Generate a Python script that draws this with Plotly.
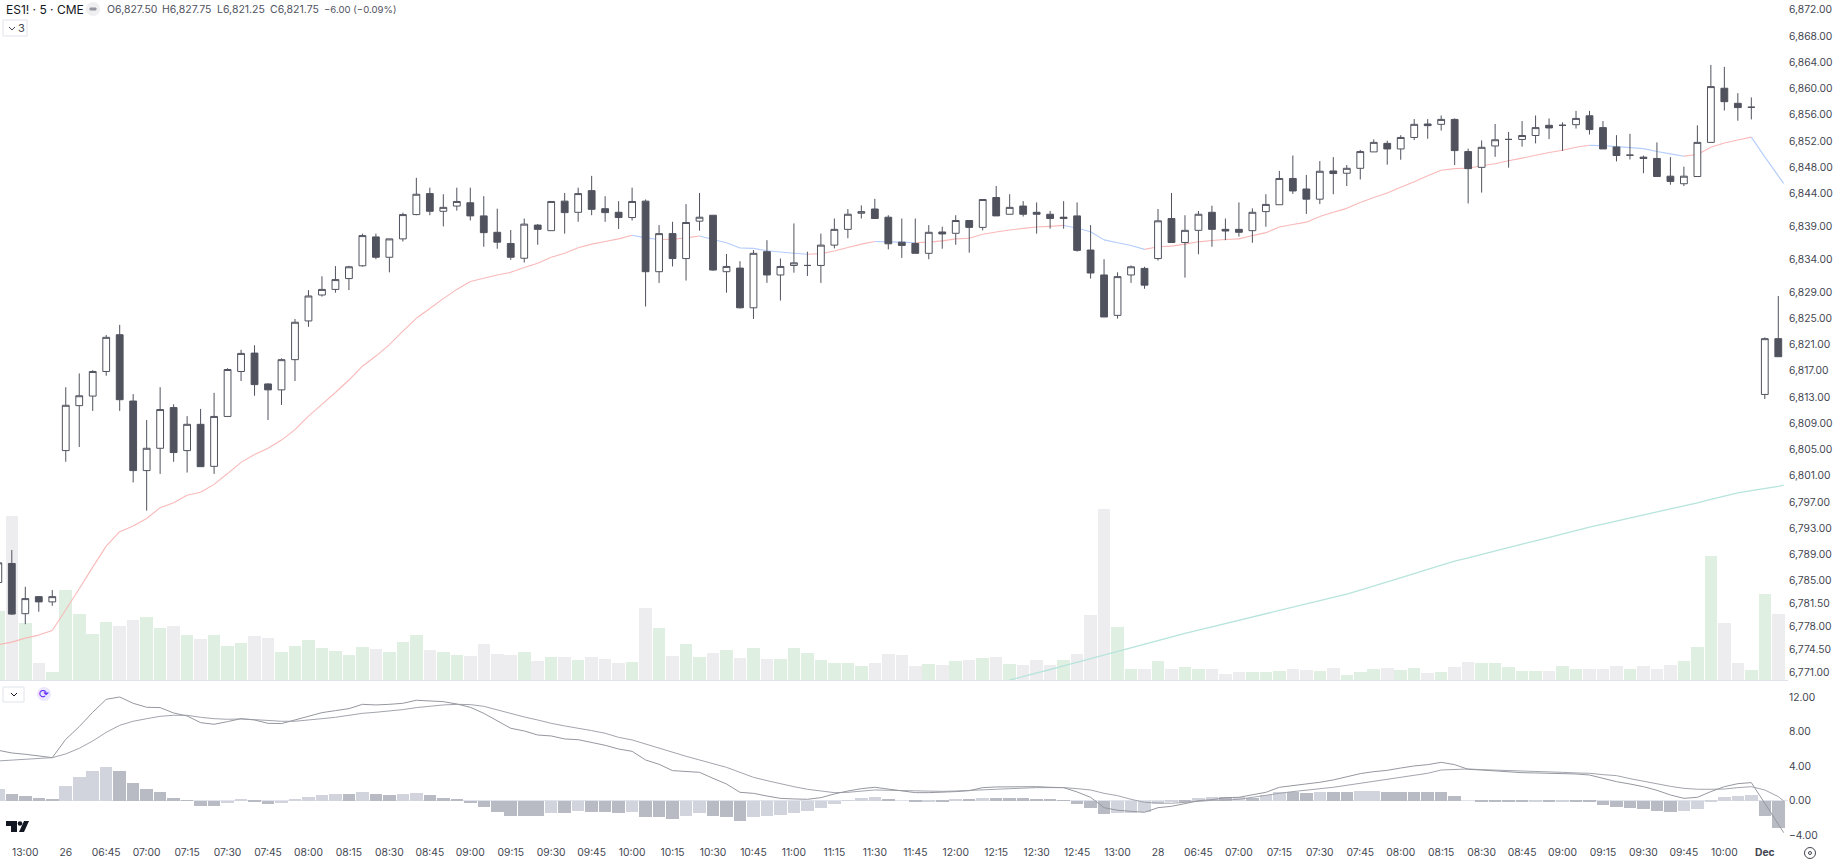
import plotly.graph_objects as go

# ES1! 5 minute bars, x is the bar number, 0 is the first "13:00" label
bar_index = list(range(-2, 131))

opens = [
    6784.75, 6787.65, 6780.0, 6782.6, 6781.8, 6804.85, 6811.7, 6813.15, 6816.9, 6822.5,
    6812.4, 6801.8, 6805.2, 6811.4, 6804.85, 6808.85, 6802.45, 6810.05, 6816.9, 6819.7,
    6815.0, 6814.1, 6818.7, 6824.6, 6828.55, 6829.4, 6831.05, 6833.0, 6837.4, 6834.3,
    6837.1, 6840.8, 6844.0, 6841.3, 6842.1, 6842.6, 6840.6, 6838.1, 6836.4, 6834.15,
    6839.2, 6838.35, 6842.85, 6841.15, 6844.45, 6841.7, 6841.15, 6840.35, 6842.85, 6832.1,
    6837.9, 6834.1, 6839.8, 6840.7, 6832.1, 6832.65, 6826.6, 6835.15, 6831.6, 6833.05,
    6833.05, 6833.05, 6836.15, 6838.55, 6841.0, 6841.65, 6840.4, 6836.6, 6836.4, 6834.9,
    6838.15, 6837.95, 6839.9, 6838.85, 6843.4, 6840.85, 6842.1, 6841.15, 6840.85, 6840.2,
    6840.6, 6835.4, 6831.6, 6825.45, 6831.6, 6832.6, 6834.1, 6840.2, 6836.55, 6838.4,
    6841.15, 6838.55, 6838.55, 6838.35, 6841.25, 6842.3, 6846.3, 6844.7, 6843.15, 6847.45,
    6847.1, 6847.85, 6850.35, 6851.65, 6850.8, 6852.55, 6854.6, 6854.55, 6855.3, 6850.4,
    6848.0, 6851.25, 6852.25, 6852.25, 6852.85, 6854.4, 6854.4, 6854.5, 6855.85, 6854.05,
    6851.1, 6849.85, 6849.55, 6849.35, 6846.65, 6845.5, 6846.6, 6851.8, 6860.05, 6857.75,
    6857.15, 6813.4, 6821.9,
]
highs = [
    6788.0, 6789.7, 6784.1, 6782.7, 6783.6, 6814.5, 6816.6, 6817.1, 6822.45, 6824.0,
    6813.45, 6809.5, 6814.5, 6811.9, 6810.1, 6811.2, 6813.65, 6817.4, 6820.2, 6820.9,
    6815.1, 6818.9, 6824.9, 6829.3, 6831.4, 6832.95, 6833.0, 6837.9, 6837.9, 6837.1,
    6841.1, 6846.4, 6844.9, 6843.9, 6844.9, 6844.9, 6843.6, 6841.7, 6838.45, 6840.2,
    6839.35, 6842.8, 6844.1, 6844.9, 6846.7, 6843.6, 6842.85, 6844.9, 6843.1, 6839.2,
    6839.7, 6842.4, 6844.1, 6840.7, 6834.8, 6833.7, 6835.4, 6836.9, 6834.1, 6839.45,
    6835.15, 6837.9, 6840.2, 6841.65, 6842.2, 6843.2, 6840.7, 6840.2, 6840.2, 6839.2,
    6838.95, 6840.7, 6839.9, 6843.1, 6845.15, 6843.9, 6842.85, 6842.65, 6841.35, 6842.85,
    6842.65, 6839.2, 6834.0, 6832.0, 6833.05, 6832.85, 6841.65, 6844.1, 6840.7, 6841.35,
    6842.15, 6840.2, 6842.65, 6841.75, 6843.9, 6847.45, 6849.8, 6846.85, 6848.95, 6849.55,
    6848.35, 6850.65, 6852.25, 6852.05, 6852.9, 6855.35, 6855.35, 6855.9, 6855.45, 6850.85,
    6852.1, 6854.6, 6853.4, 6855.05, 6855.9, 6855.45, 6854.85, 6856.6, 6856.6, 6855.05,
    6852.9, 6853.1, 6849.8, 6851.8, 6849.55, 6848.1, 6854.4, 6863.6, 6863.3, 6859.3,
    6858.65, 6822.1, 6828.4,
]
lows = [
    6784.5, 6779.8, 6778.4, 6780.3, 6781.2, 6803.15, 6805.4, 6810.9, 6816.25, 6810.9,
    6800.0, 6795.7, 6801.3, 6803.15, 6801.5, 6802.4, 6801.3, 6810.05, 6815.45, 6813.2,
    6809.5, 6811.8, 6815.45, 6823.7, 6828.3, 6828.9, 6829.3, 6832.85, 6834.0, 6832.0,
    6836.7, 6840.7, 6840.7, 6839.0, 6841.4, 6839.9, 6835.9, 6835.6, 6833.9, 6833.5,
    6836.2, 6838.35, 6837.9, 6839.7, 6840.7, 6839.7, 6838.6, 6839.9, 6826.8, 6830.4,
    6832.9, 6830.75, 6838.35, 6832.25, 6828.9, 6826.5, 6824.9, 6830.4, 6827.7, 6831.95,
    6831.45, 6830.4, 6835.65, 6837.2, 6840.2, 6840.2, 6835.5, 6834.2, 6834.9, 6834.0,
    6835.6, 6836.2, 6835.0, 6838.4, 6840.6, 6840.85, 6840.5, 6837.9, 6838.65, 6838.65,
    6835.15, 6831.05, 6825.2, 6824.95, 6830.4, 6829.5, 6833.8, 6836.55, 6831.2, 6834.75,
    6835.9, 6836.9, 6837.45, 6836.5, 6838.95, 6842.3, 6843.95, 6840.9, 6842.4, 6843.9,
    6845.15, 6846.15, 6850.35, 6848.4, 6849.15, 6852.15, 6852.35, 6853.6, 6848.35, 6842.5,
    6844.15, 6849.6, 6847.95, 6851.15, 6851.65, 6852.3, 6850.5, 6853.9, 6853.0, 6850.8,
    6848.9, 6849.2, 6847.1, 6846.6, 6845.35, 6845.15, 6846.6, 6851.8, 6856.65, 6855.1,
    6855.3, 6812.7, 6819.15,
]
closes = [
    6787.75, 6779.94, 6782.3, 6781.8, 6782.6, 6811.75, 6813.2, 6816.9, 6822.1, 6812.6,
    6801.8, 6805.2, 6811.1, 6804.55, 6808.85, 6802.4, 6810.05, 6817.2, 6819.65, 6814.9,
    6814.1, 6818.7, 6824.4, 6828.4, 6829.4, 6830.9, 6832.85, 6837.6, 6834.3, 6837.1,
    6840.8, 6843.9, 6841.3, 6841.9, 6842.8, 6840.6, 6838.05, 6836.6, 6834.3, 6839.35,
    6838.55, 6842.8, 6841.1, 6844.0, 6841.6, 6841.1, 6840.35, 6842.8, 6832.1, 6837.9,
    6834.1, 6839.6, 6840.4, 6832.35, 6832.9, 6826.6, 6834.9, 6831.6, 6832.9, 6833.45,
    6833.05, 6836.15, 6838.55, 6840.85, 6841.25, 6840.2, 6836.35, 6836.1, 6834.9, 6838.1,
    6837.85, 6839.9, 6838.85, 6843.1, 6840.6, 6841.9, 6840.85, 6840.85, 6840.2, 6840.4,
    6835.35, 6831.9, 6825.2, 6831.35, 6832.85, 6830.05, 6839.85, 6836.55, 6838.4, 6840.85,
    6838.55, 6838.3, 6838.1, 6841.15, 6842.35, 6846.3, 6844.4, 6843.15, 6847.4, 6847.05,
    6847.85, 6850.4, 6851.8, 6850.8, 6852.55, 6854.55, 6854.35, 6855.3, 6850.55, 6847.8,
    6851.05, 6852.2, 6852.25, 6852.85, 6854.05, 6854.0, 6854.4, 6855.45, 6853.75, 6850.8,
    6849.8, 6849.85, 6849.35, 6846.6, 6845.85, 6846.65, 6851.8, 6860.3, 6858.0, 6857.1,
    6857.15, 6821.9, 6819.15,
]
volumes = [
    208, 491, 172, 50, 25, 269, 199, 139, 175, 161,
    181, 188, 157, 161, 134, 123, 136, 103, 112, 133,
    125, 85, 103, 121, 97, 87, 76, 100, 94, 85,
    114, 136, 91, 85, 76, 73, 107, 78, 76, 85,
    58, 70, 70, 61, 69, 62, 51, 55, 215, 157,
    73, 107, 69, 82, 91, 67, 96, 64, 64, 96,
    80, 61, 51, 51, 42, 51, 79, 76, 43, 49,
    46, 58, 60, 67, 70, 49, 46, 60, 46, 61,
    78, 195, 513, 159, 34, 34, 58, 34, 40, 32,
    33, 19, 25, 24, 25, 28, 34, 31, 28, 37,
    16, 25, 33, 37, 31, 37, 22, 24, 40, 55,
    51, 51, 40, 28, 28, 28, 42, 34, 34, 34,
    42, 34, 42, 34, 46, 58, 98, 373, 172, 51,
    31, 258, 197,
]

# moving averages and MACD run a bit past the last bar, to the forming candle
line_index = bar_index + [130.4]
ema_fast = [
    6775.27, 6775.67, 6776.28, 6776.74, 6777.45, 6780.6, 6783.8, 6787.1, 6790.3, 6792.5,
    6793.35, 6794.5, 6796.15, 6796.9, 6798.05, 6798.5, 6799.7, 6801.35, 6803.05, 6804.25,
    6805.2, 6806.45, 6808.05, 6810.1, 6811.9, 6813.7, 6815.6, 6817.7, 6819.25, 6821.0,
    6823.05, 6825.0, 6826.5, 6828.0, 6829.4, 6830.6, 6831.1, 6831.6, 6832.0, 6832.75,
    6833.4, 6834.3, 6834.9, 6835.75, 6836.3, 6836.7, 6837.1, 6837.65, 6837.25, 6837.0,
    6837.05, 6837.25, 6837.55, 6837.0, 6836.5, 6835.7, 6835.65, 6835.3, 6835.1, 6834.9,
    6834.75, 6834.85, 6835.25, 6835.8, 6836.3, 6836.7, 6836.65, 6836.6, 6836.5, 6836.6,
    6836.8, 6837.1, 6837.2, 6837.8, 6838.15, 6838.45, 6838.7, 6838.9, 6839.0, 6839.15,
    6838.75, 6838.2, 6836.95, 6836.5, 6836.1, 6835.5, 6835.9, 6836.0, 6836.3, 6836.65,
    6836.85, 6837.0, 6837.1, 6837.6, 6838.05, 6838.9, 6839.3, 6839.65, 6840.5, 6841.15,
    6841.75, 6842.65, 6843.4, 6844.1, 6844.95, 6845.8, 6846.7, 6847.55, 6847.8, 6847.85,
    6848.25, 6848.55, 6849.0, 6849.4, 6849.85, 6850.25, 6850.6, 6851.05, 6851.35, 6851.3,
    6851.15, 6851.0, 6850.85, 6850.4, 6850.05, 6849.7, 6849.95, 6851.05, 6851.7, 6852.15,
    6852.6, 6849.6, 6846.7, 6845.55,
]
sma_index = list(range(73, 131)) + [130.4]
sma_slow = [
    6769.9, 6770.4, 6770.95, 6771.5, 6772.05, 6772.6, 6773.15, 6773.7, 6774.3, 6774.9,
    6775.45, 6776.0, 6776.5, 6777.0, 6777.5, 6778.0, 6778.5, 6779.0, 6779.5, 6780.0,
    6780.45, 6780.95, 6781.4, 6781.9, 6782.4, 6783.0, 6783.6, 6784.2, 6784.85, 6785.45,
    6786.1, 6786.75, 6787.4, 6788.0, 6788.5, 6789.05, 6789.55, 6790.05, 6790.6, 6791.1,
    6791.65, 6792.15, 6792.65, 6793.2, 6793.65, 6794.1, 6794.6, 6795.05, 6795.5, 6795.95,
    6796.45, 6796.9, 6797.4, 6797.9, 6798.4, 6798.75, 6799.05, 6799.4, 6799.6,
]

macd_line = [
    5.83, 5.52, 5.37, 5.14, 4.98, 7.10, 8.57, 10.23, 11.73, 12.00,
    11.27, 10.81, 10.77, 10.15, 9.80, 9.03, 8.84, 9.15, 9.49, 9.34,
    8.95, 8.92, 9.34, 9.84, 10.19, 10.42, 10.65, 11.15, 11.08, 11.15,
    11.27, 11.62, 11.58, 11.46, 11.19, 10.81, 10.11, 9.26, 8.38, 8.07,
    7.60, 7.49, 7.14, 7.06, 6.76, 6.41, 5.98, 5.71, 4.71, 4.21,
    3.48, 3.40, 3.28, 2.59, 1.93, 0.97, 0.85, 0.54, 0.27, 0.20,
    0.16, 0.35, 0.78, 1.12, 1.39, 1.55, 1.32, 1.08, 0.93, 0.93,
    0.97, 1.05, 1.16, 1.51, 1.59, 1.62, 1.62, 1.62, 1.55, 1.51,
    1.01, 0.39, -0.81, -1.11, -1.23, -1.35, -0.81, -0.65, -0.34, 0.00,
    0.12, 0.35, 0.39, 0.66, 0.97, 1.55, 1.74, 1.86, 2.13, 2.40,
    2.74, 3.13, 3.36, 3.51, 3.78, 4.02, 4.17, 4.44, 4.17, 3.63,
    3.55, 3.44, 3.28, 3.24, 3.21, 3.17, 3.17, 3.09, 2.97, 2.59,
    2.20, 1.93, 1.62, 1.20, 0.66, 0.27, 0.39, 1.05, 1.62, 1.97,
    2.09, -0.30, -2.62, -3.70,
]
signal_line = [
    4.60, 4.71, 4.79, 4.87, 4.98, 5.41, 6.06, 6.91, 7.91, 8.72,
    9.19, 9.49, 9.76, 9.88, 9.88, 9.65, 9.49, 9.42, 9.46, 9.38,
    9.26, 9.19, 9.19, 9.38, 9.49, 9.65, 9.88, 10.11, 10.23, 10.38,
    10.54, 10.77, 10.96, 11.08, 11.15, 11.12, 10.92, 10.50, 10.07, 9.69,
    9.34, 8.95, 8.65, 8.41, 8.11, 7.80, 7.33, 7.03, 6.56, 6.06,
    5.56, 5.14, 4.71, 4.29, 3.86, 3.28, 2.70, 2.32, 1.93, 1.62,
    1.32, 1.12, 0.93, 0.97, 1.08, 1.24, 1.20, 1.16, 1.16, 1.12,
    1.08, 1.12, 1.16, 1.28, 1.32, 1.39, 1.47, 1.51, 1.51, 1.51,
    1.39, 1.24, 0.85, 0.58, 0.16, -0.19, -0.27, -0.30, -0.19, -0.04,
    0.04, 0.08, 0.16, 0.39, 0.66, 0.85, 1.05, 1.20, 1.35, 1.55,
    1.78, 2.01, 2.24, 2.47, 2.70, 2.97, 3.17, 3.55, 3.63, 3.67,
    3.59, 3.55, 3.48, 3.40, 3.36, 3.32, 3.28, 3.21, 3.17, 3.01,
    2.90, 2.55, 2.24, 1.93, 1.66, 1.43, 1.32, 1.32, 1.35, 1.51,
    1.62, 1.24, 0.47, -0.04,
]
macd_hist = [
    1.35, 0.81, 0.58, 0.27, 0.12, 1.74, 2.78, 3.40, 3.94, 3.40,
    2.08, 1.35, 1.04, 0.35, 0.04, -0.66, -0.66, -0.31, 0.08, -0.08,
    -0.39, -0.31, 0.12, 0.46, 0.69, 0.81, 0.81, 1.04, 0.81, 0.69,
    0.81, 0.93, 0.62, 0.35, 0.12, -0.31, -0.77, -1.27, -1.74, -1.74,
    -1.74, -1.47, -1.47, -1.16, -1.27, -1.27, -1.39, -1.27, -1.89, -1.89,
    -2.08, -1.81, -1.47, -1.81, -1.89, -2.31, -1.89, -1.81, -1.62, -1.39,
    -1.16, -0.85, -0.42, 0.04, 0.35, 0.46, 0.19, 0.00, -0.15, -0.04,
    -0.04, 0.08, 0.08, 0.35, 0.35, 0.35, 0.35, 0.23, 0.19, 0.04,
    -0.39, -0.81, -1.54, -1.47, -1.39, -1.27, -0.35, -0.15, -0.15, 0.35,
    0.42, 0.42, 0.46, 0.27, 0.69, 1.00, 1.00, 0.93, 1.04, 1.04,
    1.04, 1.12, 1.16, 1.04, 1.04, 1.04, 0.96, 0.96, 0.54, 0.00,
    -0.04, -0.12, -0.12, -0.12, -0.08, -0.08, -0.04, -0.04, -0.12, -0.46,
    -0.77, -0.85, -0.96, -1.20, -1.27, -1.20, -0.93, -0.04, 0.42, 0.50,
    0.62, -1.77, -3.20,
]

price_ticks = [6872, 6868, 6864, 6860, 6856, 6852, 6848, 6844, 6839, 6834, 6829, 6825, 6821,
               6817, 6813, 6809, 6805, 6801, 6797, 6793, 6789, 6785, 6781.5, 6778, 6774.5, 6771]
macd_ticks = [12, 8, 4, 0, -4]
time_labels = ["13:00", "26", "06:45", "07:00", "07:15", "07:30", "07:45", "08:00", "08:15", "08:30",
               "08:45", "09:00", "09:15", "09:30", "09:45", "10:00", "10:15", "10:30", "10:45",
               "11:00", "11:15", "11:30", "11:45", "12:00", "12:15", "12:30", "12:45", "13:00",
               "28", "06:45", "07:00", "07:15", "07:30", "07:45", "08:00", "08:15", "08:30",
               "08:45", "09:00", "09:15", "09:30", "09:45", "10:00", "<b>Dec</b>"]

FONT = "Inter"
DARK = "#50535e"
PLOT_W = 1788
PLOT_H = 840


def px(x):
    return x / PLOT_W


def py(y):
    return 1 - y / PLOT_H


def label(text, x, y, size=10.5, color=DARK, family=FONT, anchor="left"):
    return dict(text=text, xref="paper", yref="paper", x=px(x), y=py(y), xanchor=anchor,
                yanchor="middle", showarrow=False, font=dict(family=family, size=size, color=color))


def box(x0, y0, x1, y1, line="#e0e3eb", fill="white"):
    return dict(type="rect", xref="paper", yref="paper", x0=px(x0), x1=px(x1), y0=py(y0), y1=py(y1),
                line=dict(color=line, width=1), fillcolor=fill)


def disc(cx, cy, r, line="rgba(0,0,0,0)", fill="white"):
    return dict(type="circle", xref="paper", yref="paper", x0=px(cx - r), x1=px(cx + r),
                y0=py(cy - r), y1=py(cy + r), line=dict(color=line, width=1), fillcolor=fill)


def poly(points, fill=None, line="rgba(0,0,0,0)", width=1):
    path = "M" + " L".join(f"{px(a):.5f} {py(b):.5f}" for a, b in points)
    if fill:
        path += " Z"
    return dict(type="path", xref="paper", yref="paper", path=path, line=dict(color=line, width=width),
                fillcolor=fill or "rgba(0,0,0,0)")


def split_by_direction(xs, ys):
    # the short average is pink while it rises and blue while it falls
    up_x, up_y, down_x, down_y = [], [], [], []
    for a in range(len(xs) - 1):
        if ys[a + 1] >= ys[a]:
            up_x += [xs[a], xs[a + 1], None]
            up_y += [ys[a], ys[a + 1], None]
        else:
            down_x += [xs[a], xs[a + 1], None]
            down_y += [ys[a], ys[a + 1], None]
    return up_x, up_y, down_x, down_y


volume_colors = ["#dff0e3" if c >= o else "#edEDEF" for o, c in zip(opens, closes)]
hist_colors = ["#d1d4dc"]
for prev, cur in zip(macd_hist, macd_hist[1:]):
    hist_colors.append("#d1d4dc" if cur > prev else "#b8bbc4")

up_x, up_y, down_x, down_y = split_by_direction(line_index, ema_fast)

fig = go.Figure()

fig.add_trace(go.Bar(x=bar_index, y=volumes, width=0.93, marker=dict(color=volume_colors, line_width=0),
                     xaxis="x", yaxis="y"))
fig.add_trace(go.Scatter(x=sma_index, y=sma_slow, mode="lines", line=dict(color="#b7e4dc", width=1.3),
                         xaxis="x", yaxis="y2"))
fig.add_trace(go.Scatter(x=up_x, y=up_y, mode="lines", line=dict(color="#f9b8b8", width=1.1),
                         xaxis="x", yaxis="y2"))
fig.add_trace(go.Scatter(x=down_x, y=down_y, mode="lines", line=dict(color="#b3ccfb", width=1.1),
                         xaxis="x", yaxis="y2"))
fig.add_trace(go.Candlestick(
    x=bar_index, open=opens, high=highs, low=lows, close=closes,
    increasing=dict(line=dict(color=DARK, width=1), fillcolor="white"),
    decreasing=dict(line=dict(color=DARK, width=1), fillcolor=DARK),
    whiskerwidth=0, xaxis="x", yaxis="y3",
))

fig.add_trace(go.Bar(x=bar_index, y=macd_hist, width=0.93, marker=dict(color=hist_colors, line_width=0),
                     xaxis="x2", yaxis="y4"))
fig.add_trace(go.Scatter(x=line_index, y=signal_line, mode="lines", line=dict(color="#a3a5ae", width=1),
                         xaxis="x2", yaxis="y4"))
fig.add_trace(go.Scatter(x=line_index, y=macd_line, mode="lines", line=dict(color="#96989f", width=1),
                         xaxis="x2", yaxis="y4"))

x_range = [-1.876, 130.72]
price_range = [6769.9, 6873.49]
price_domain = [160 / PLOT_H, 1]
macd_domain = [0, 159 / PLOT_H]
tick_font = dict(family=FONT, size=10.3, color="#434651")

annotations = [
    label("ES1! · 5 · CME", 4, 10, size=12, color="#131722"),
    label("O6,827.50", 105, 10),
    label("H6,827.75", 160, 10),
    label("L6,821.25", 215, 10),
    label("C6,821.75", 268, 10),
    label("−6.00 (−0.09%)", 322, 10, size=9.6),
    label("3", 21, 28, size=11, color="#434651", anchor="center"),
    label("⟳", 44, 694, size=12, color="#5f2bff", family="DejaVu Sans", anchor="center"),
]
shapes = [
    disc(93, 9, 7, fill="#efeff1"),
    box(90, 8, 96, 10, line="#9598a1", fill="#9598a1"),
    box(3, 20, 27, 36),
    poly([(9, 27), (12, 30), (15, 27)], line="#434651"),
    box(3, 687, 24, 702),
    poly([(11, 693), (14, 696), (17, 693)], line="#131722"),
    disc(44, 694, 7, fill="#ece6ff"),
    poly([(6, 821), (17, 821), (17, 832), (11, 832), (11, 826), (6, 826)], fill="#131722"),
    disc(20, 823.5, 2.3, fill="#131722"),
    poly([(24, 821), (29, 821), (24, 832), (19, 832)], fill="#131722"),
    disc(1810, 853, 5.5, line="#434651"),
    disc(1810, 853, 1.5, line="#434651"),
]

fig.update_layout(
    width=1834,
    height=861,
    margin=dict(l=0, r=46, t=0, b=21, autoexpand=False),
    paper_bgcolor="white",
    plot_bgcolor="white",
    showlegend=False,
    hovermode=False,
    bargap=0,
    barmode="overlay",
    boxgap=0.28,
    font=dict(family=FONT),
    annotations=annotations,
    shapes=shapes,
    xaxis=dict(range=x_range, domain=[0, 1], anchor="y", showgrid=False, zeroline=False, showticklabels=False,
               showline=True, linecolor="#e0e3eb", linewidth=1, ticks="", rangeslider=dict(visible=False)),
    xaxis2=dict(range=x_range, domain=[0, 1], anchor="y4", matches="x", showgrid=False, zeroline=False,
                showline=False, ticks="", tickmode="array", tickvals=list(range(0, 130, 3)), ticktext=time_labels,
                tickangle=0, ticklabelstandoff=5, tickfont=tick_font),
    yaxis=dict(domain=price_domain, range=[0, 2040], visible=False, fixedrange=True),
    yaxis2=dict(domain=price_domain, range=price_range, overlaying="y", visible=False),
    yaxis3=dict(domain=price_domain, range=price_range, overlaying="y", side="right", anchor="x", showgrid=False,
                zeroline=False, ticks="", tickmode="array", tickvals=price_ticks,
                ticktext=[f"{v:,.2f}" for v in price_ticks], tickfont=tick_font),
    yaxis4=dict(domain=macd_domain, range=[-4.55, 13.85], side="right", anchor="x2", showgrid=False, zeroline=True,
                zerolinecolor="#e0e3eb", zerolinewidth=1, ticks="", tickmode="array", tickvals=macd_ticks,
                ticktext=[f"{v:.2f}".replace("-", "−") for v in macd_ticks], tickfont=tick_font),
)

fig.write_html("out.html", config={"displayModeBar": False},
               post_script="document.body.style.margin='0';document.body.style.overflow='hidden';")
